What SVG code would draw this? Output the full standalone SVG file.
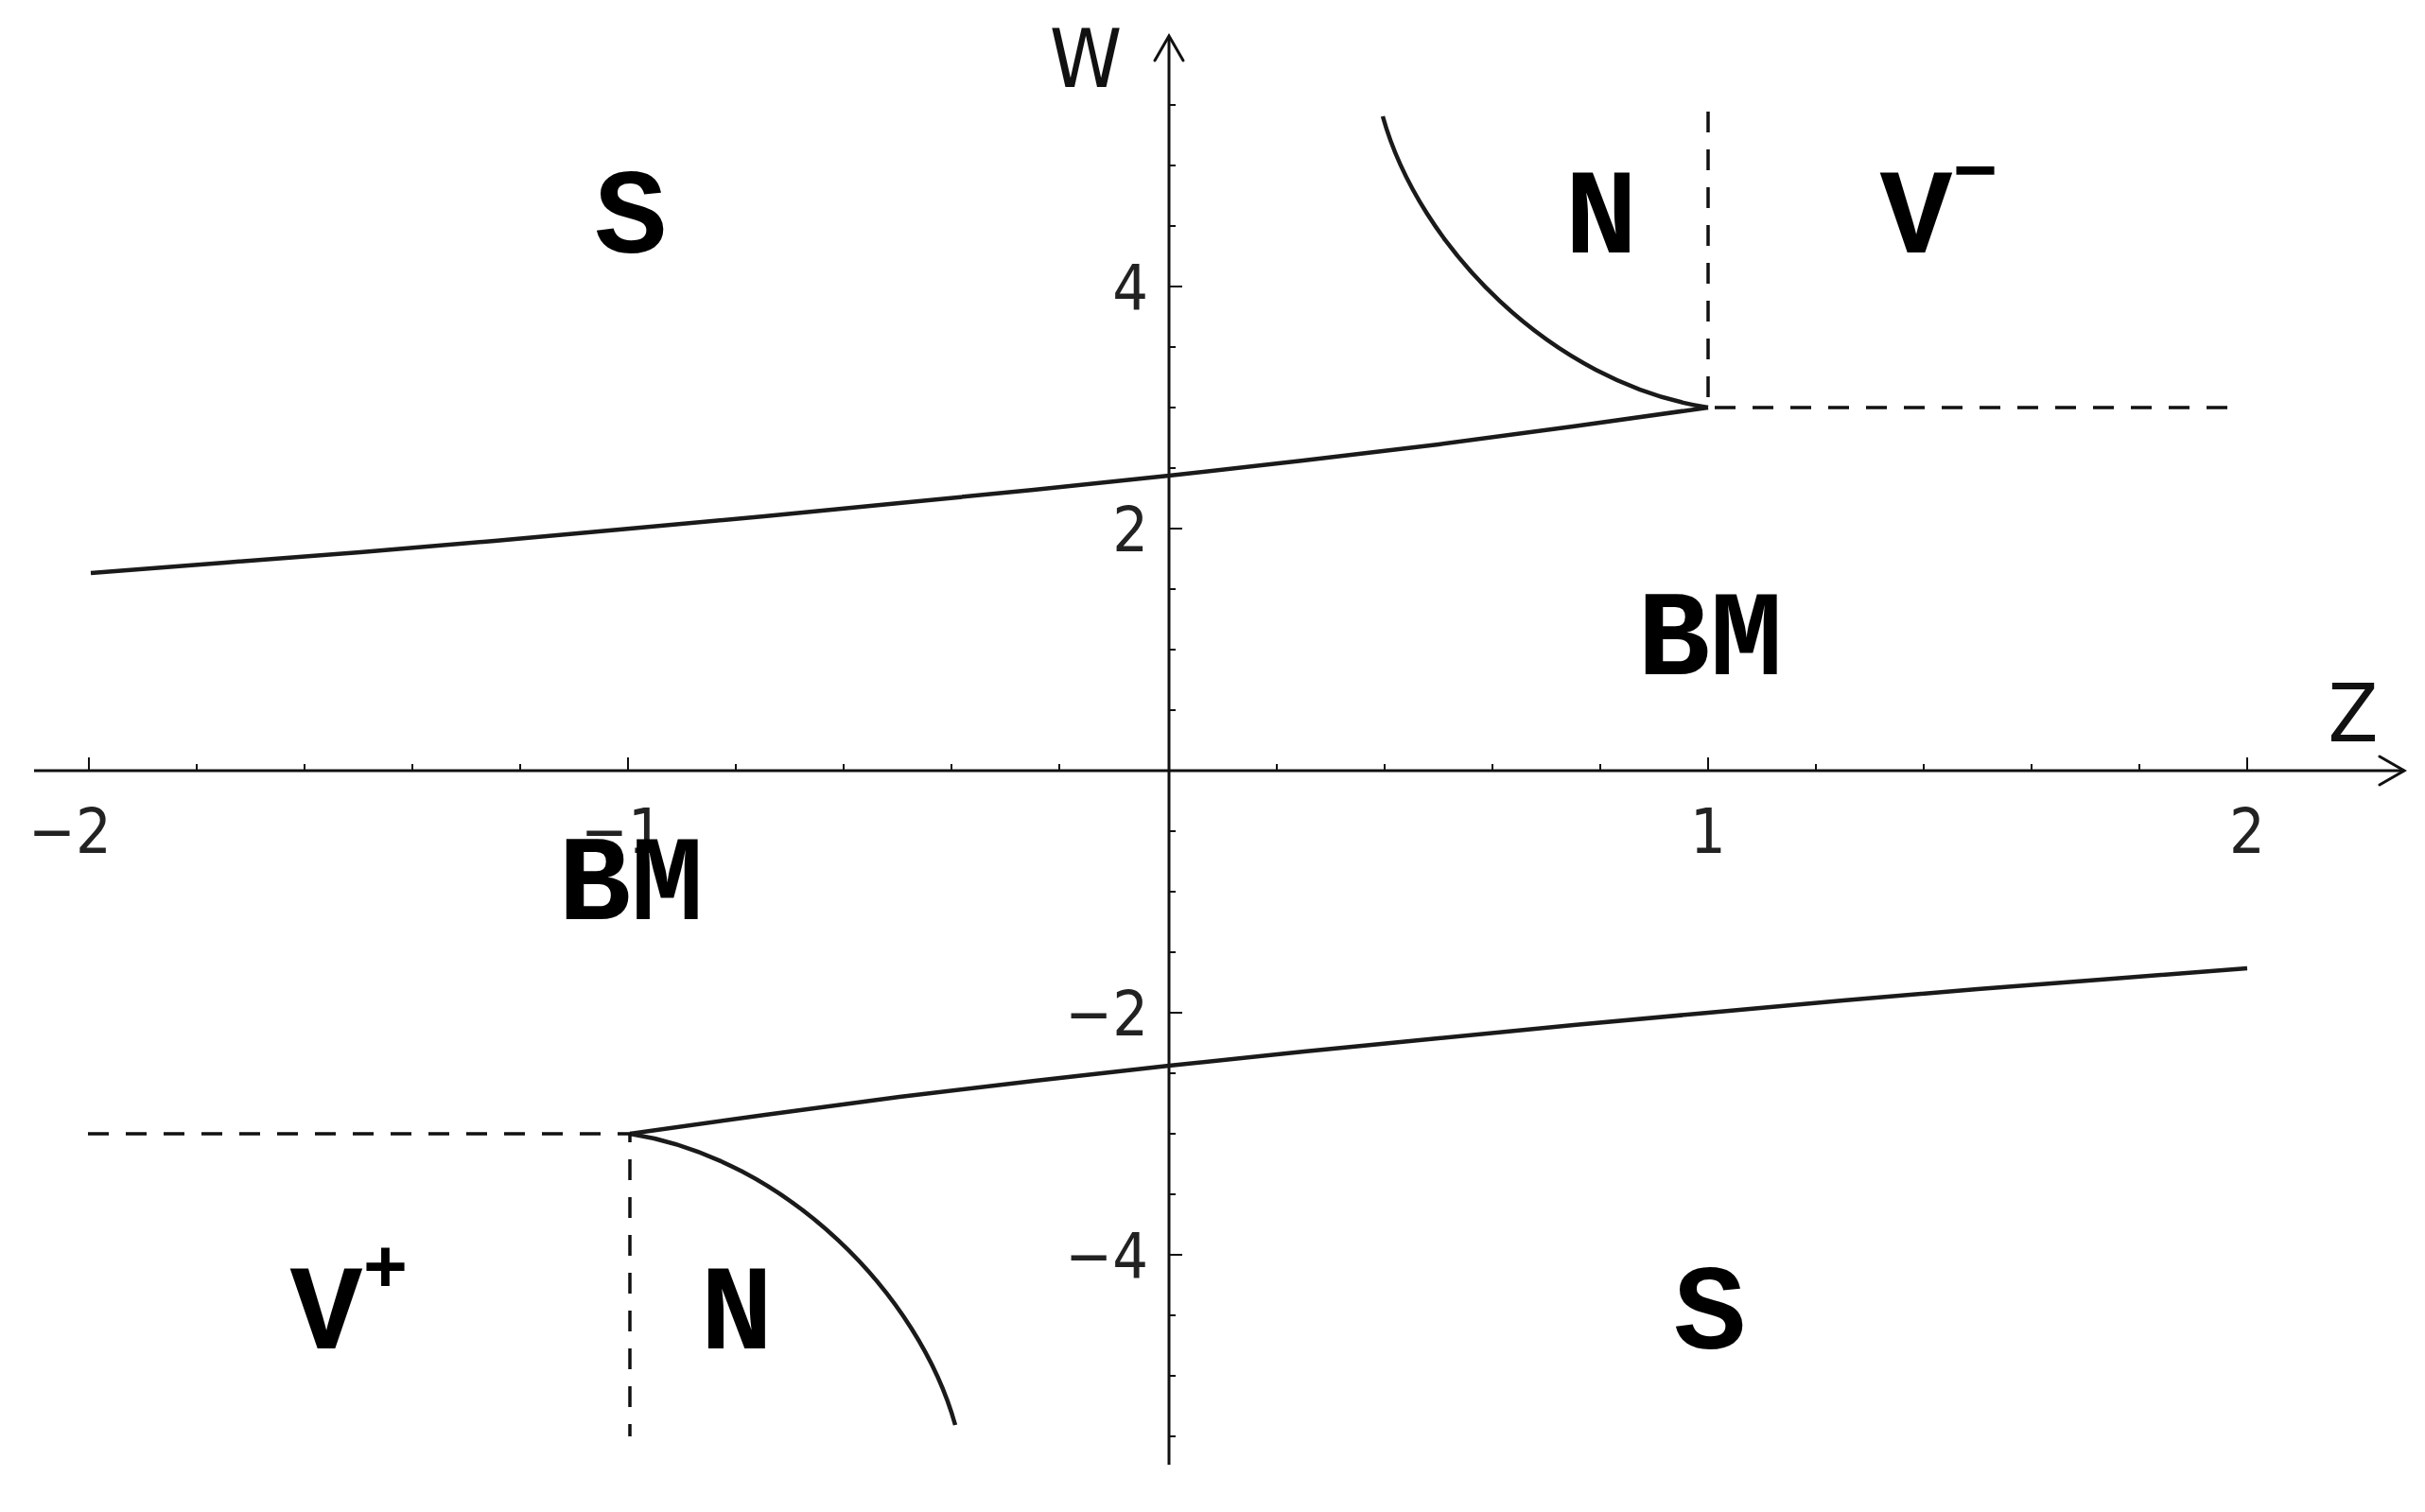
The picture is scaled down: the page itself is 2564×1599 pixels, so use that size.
<svg xmlns="http://www.w3.org/2000/svg" width="2564" height="1599" viewBox="0 0 2564 1599">
<style>
.ax{stroke:#111;stroke-width:3;fill:none}
.tk{stroke:#111;stroke-width:2}
.cv{stroke:#1a1a1a;stroke-width:4.5;fill:none;stroke-linejoin:round}
.ds{stroke:#111;stroke-width:3.5;fill:none;stroke-dasharray:22,18}
.num{font-family:"DejaVu Sans",sans-serif;font-stretch:condensed;font-size:66px;fill:#222}
.lab{font-family:"Liberation Mono",monospace;font-weight:bold;font-size:128px;fill:#000;text-anchor:middle}
.axl{font-family:"DejaVu Sans",sans-serif;font-stretch:condensed;font-size:86px;fill:#111}
</style>
<rect width="2564" height="1599" fill="#fff"/>
<g id="axes">
<line class="ax" x1="36" y1="815" x2="2540" y2="815"/>
<polyline class="ax" points="2516,800 2542,815 2516,830" stroke-width="5" stroke-linecap="round"/>
<line class="ax" x1="1236" y1="1549" x2="1236" y2="40"/>
<polyline class="ax" points="1221,64 1236,38 1251,64" stroke-width="5" stroke-linecap="round"/>
<g class="tk">
<path d="M94 815v-14M664 815v-14M1806 815v-14M2376 815v-14"/>
<path d="M208 815v-7M322 815v-7M436 815v-7M550 815v-7M778 815v-7M892 815v-7M1006 815v-7M1120 815v-7M1350 815v-7M1464 815v-7M1578 815v-7M1692 815v-7M1920 815v-7M2034 815v-7M2148 815v-7M2262 815v-7"/>
<path d="M1236 303h14M1236 559h14M1236 1071h14M1236 1327h14"/>
<path d="M1236 111h7M1236 175h7M1236 239h7M1236 367h7M1236 431h7M1236 495h7M1236 623h7M1236 687h7M1236 751h7M1236 879h7M1236 943h7M1236 1007h7M1236 1135h7M1236 1199h7M1236 1263h7M1236 1391h7M1236 1455h7M1236 1519h7"/>
</g>
<text class="num" x="74" y="902" text-anchor="middle">−2</text>
<text class="num" x="658" y="902" text-anchor="middle">−1</text>
<text class="num" x="1806" y="902" text-anchor="middle">1</text>
<text class="num" x="2376" y="902" text-anchor="middle">2</text>
<text class="num" x="1214" y="327" text-anchor="end">4</text>
<text class="num" x="1214" y="583" text-anchor="end">2</text>
<text class="num" x="1214" y="1095" text-anchor="end">−2</text>
<text class="num" x="1214" y="1351" text-anchor="end">−4</text>
<text class="axl" x="1148" y="92" text-anchor="middle">W</text>
<text class="axl" x="2488" y="784" text-anchor="middle">Z</text>
</g>
<g id="connectors">
<polyline class="cv" points="96,606 238,595 381,584 523,572 666,559 808,546 951,532 1093,518 1236,503 1378,487 1521,470 1663,451 1806,431"/>
<polyline class="cv" points="2376,1024 2234,1035 2091,1046 1949,1058 1806,1071 1664,1084 1521,1098 1379,1112 1236,1127 1094,1143 951,1160 809,1179 666,1199"/>
<path class="cv" d="M1462,123 C1500,260 1640,405 1806,431"/>
<path class="cv" d="M1010,1507 C972,1370 832,1225 666,1199"/>
<path class="ds" d="M1806,118 V431 H2363"/>
<path class="ds" d="M93,1199 H666 V1519"/>
</g>
<g id="regions">
<text class="lab" x="667" y="267">S</text>
<text class="lab" x="1693" y="267">N</text>
<text class="lab" x="2050" y="267">V<tspan font-size="80" dy="-60">−</tspan></text>
<text class="lab" x="1808" y="713">BM</text>
<text class="lab" x="667" y="972">BM</text>
<text class="lab" x="369" y="1426">V<tspan font-size="80" dy="-60">+</tspan></text>
<text class="lab" x="779" y="1426">N</text>
<text class="lab" x="1808" y="1426">S</text>
</g>
</svg>
